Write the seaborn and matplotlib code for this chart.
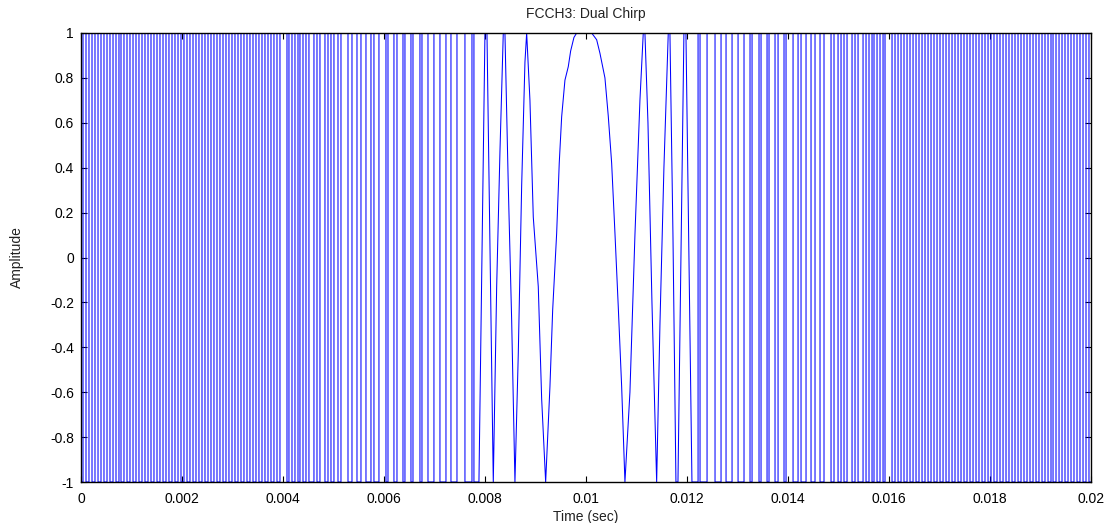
import numpy as np
import pandas as pd
import seaborn as sns
import matplotlib
matplotlib.use("Agg")
import matplotlib.pyplot as plt
from matplotlib.ticker import FuncFormatter

# ---- data (times in milliseconds) ----
# near-vertical full-swing transitions, left (high-frequency) part
left_lines_ms = [
    0.040, 0.099, 0.158, 0.218, 0.277, 0.337, 0.396, 0.455, 0.515, 0.574, 0.634,
    0.693, 0.752, 0.792, 0.851, 0.911, 0.970, 1.030, 1.089, 1.148, 1.208, 1.267,
    1.327, 1.386, 1.445, 1.505, 1.564, 1.624, 1.683, 1.742, 1.802, 1.861, 1.921,
    1.980, 2.039, 2.099, 2.158, 2.218, 2.277, 2.336, 2.396, 2.455, 2.515, 2.574,
    2.633, 2.693, 2.752, 2.812, 2.871, 2.930, 2.990, 3.049, 3.109, 3.168, 3.227,
    3.287, 3.346, 3.406, 3.465, 3.524, 3.584, 3.643, 3.703, 3.762, 3.821, 3.881,
    3.940, 4.079, 4.118, 4.178, 4.237, 4.297, 4.336, 4.396, 4.455, 4.514, 4.613,
    4.673, 4.732, 4.831, 4.891, 4.950, 5.009, 5.089, 5.148, 5.287, 5.366, 5.465,
    5.544, 5.643, 5.742, 5.801, 5.900,
    6.039, 6.079, 6.197, 6.257, 6.376, 6.415, 6.534, 6.574, 6.712, 6.752, 6.871,
    6.989, 7.108, 7.227, 7.326, 7.445, 7.603, 7.742, 7.781,
]

# slowly varying middle part (polyline vertices)
center_ms = [
    7.880, 7.999, 8.039, 8.164, 8.231, 8.296, 8.362, 8.395, 8.461, 8.528, 8.593,
    8.659, 8.726, 8.791, 8.825, 8.890, 8.956, 9.055, 9.122, 9.201, 9.286, 9.340,
    9.419, 9.470, 9.518, 9.583, 9.649, 9.696, 9.761, 9.815, 10.112, 10.211,
    10.276, 10.375, 10.441, 10.508, 10.573, 10.639, 10.706, 10.771, 10.870,
    10.969, 11.068, 11.134, 11.167, 11.227, 11.306, 11.399, 11.464, 11.543,
    11.629, 11.662, 11.722, 11.781, 11.821, 11.939, 11.979, 12.098,
]
center_amp = [
    -1.0, 1.0, 1.0, -1.0, -0.13, 0.47, 1.0, 1.0, 0.32, -0.28, -1.0,
    -0.43, 0.32, 0.87, 1.0, 0.70, 0.18, -0.13, -0.63, -1.0, -0.575, -0.234,
    0.108, 0.42, 0.627, 0.79, 0.85, 0.92, 0.98, 1.0, 1.0, 0.97,
    0.91, 0.80, 0.63, 0.42, 0.11, -0.22, -0.575, -1.0, -0.6,
    0.1, 0.7, 1.0, 1.0, 0.6, -0.2, -1.0, -0.3, 0.4,
    1.0, 1.0, 0.1, -1.0, -1.0, 1.0, 1.0, -1.0,
]

# near-vertical full-swing transitions, right (high-frequency) part
right_lines_ms = [
    12.219, 12.258, 12.397, 12.555, 12.674, 12.773, 12.892, 13.011, 13.129,
    13.248, 13.288, 13.426, 13.466, 13.585, 13.624, 13.743, 13.803, 13.921, 13.961,
    14.100, 14.199, 14.258, 14.357, 14.456, 14.535, 14.634, 14.713, 14.852, 14.911,
    14.991, 15.050, 15.109, 15.169, 15.268, 15.327, 15.387, 15.486, 15.545, 15.604,
    15.664, 15.703, 15.763, 15.822, 15.882, 15.921, 16.060,
    16.119, 16.179, 16.238, 16.297, 16.357, 16.416, 16.476, 16.535, 16.594, 16.654,
    16.713, 16.773, 16.832, 16.891, 16.951, 17.010, 17.070, 17.129, 17.188, 17.248,
    17.307, 17.367, 17.426, 17.485, 17.545, 17.604, 17.664, 17.723, 17.782, 17.842,
    17.901, 17.961, 18.020,
    18.079, 18.139, 18.198, 18.258, 18.317, 18.376, 18.436, 18.495, 18.555, 18.614,
    18.673, 18.733, 18.792, 18.852, 18.911, 18.970, 19.030, 19.089, 19.149, 19.208,
    19.248, 19.307, 19.367, 19.426, 19.485, 19.545, 19.604, 19.663, 19.723, 19.782,
    19.842, 19.901, 19.960,
]

x_ticks = [0, 0.002, 0.004, 0.006, 0.008, 0.01, 0.012, 0.014, 0.016, 0.018, 0.02]
y_ticks = [-1, -0.8, -0.6, -0.4, -0.2, 0, 0.2, 0.4, 0.6, 0.8, 1]


def swings(times, level):
    xs, ys = [], []
    for t in times:
        xs += [t, t]
        ys += [level, -level]
        level = -level
    return xs, ys, level


xs, ys = [0.0], [-1.0]
a, b, lvl = swings(left_lines_ms, -1.0)
xs += a; ys += b
xs += center_ms; ys += center_amp
a, b, lvl = swings(right_lines_ms, -1.0)
xs += a; ys += b
xs += [20.0]; ys += [lvl]

df = pd.DataFrame({"t": np.array(xs) / 1000.0, "amp": ys})

sns.set_theme(style="ticks")
plt.rcParams["font.family"] = ["Liberation Sans", "DejaVu Sans"]

fig = plt.figure(figsize=(11.11, 5.23), dpi=100)
ax = fig.add_axes([81 / 1111, 1 - 482 / 523, 1010 / 1111, 449 / 523])

sns.lineplot(data=df, x="t", y="amp", sort=False, estimator=None,
             color="#0000ff", linewidth=0.75, ax=ax)

ax.set_xlim(0, 0.02)
ax.set_ylim(-1, 1)
ax.set_xticks(x_ticks)
ax.set_yticks(y_ticks)
fmt = FuncFormatter(lambda v, p: "%g" % round(v, 4))
ax.xaxis.set_major_formatter(fmt)
ax.yaxis.set_major_formatter(fmt)
ax.tick_params(direction="in", length=4, width=0.8, top=True, right=True,
               labelsize=10, colors="black")
ax.tick_params(axis="x", pad=7)
ax.tick_params(axis="y", pad=5)
for s in ax.spines.values():
    s.set_color("black")
    s.set_linewidth(1.0)
    s.set_zorder(5)

ax.set_title("FCCH3: Dual Chirp", fontsize=10, pad=11, color="#222222")
ax.set_xlabel("Time (sec)", fontsize=10, labelpad=3, color="#222222")
ax.set_ylabel("Amplitude", fontsize=10, labelpad=19, color="#222222")

fig.savefig("out.png", dpi=100, facecolor="white")
